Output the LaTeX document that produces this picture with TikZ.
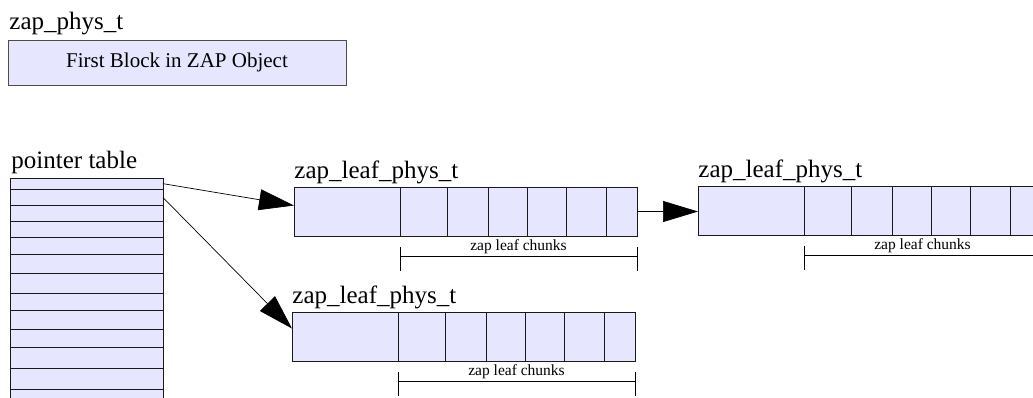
\documentclass[tikz,border=0pt]{standalone}
\usepackage{fontspec}
\setmainfont{Liberation Serif}
\usetikzlibrary{arrows.meta}
\definecolor{lavender}{RGB}{230,230,255}
\begin{document}
\begin{tikzpicture}[x=1pt, y=-1pt, line width=0.9pt]
	\tikzstyle{cell} = [draw=black!90, fill=lavender, inner sep=0pt, outer sep=0pt, anchor=north west]
	\tikzstyle{title} = [anchor=base west, inner sep=0pt, font=\fontsize{25}{30}\selectfont]
	\tikzstyle{arrow} = [-{Triangle[length=35pt,width=21pt]}, line width=0.7pt]
	\useasboundingbox (0,0) rectangle (1033,397);
	% first block
	\node[cell, draw=black!70, minimum width=338pt, minimum height=45pt, font=\fontsize{21}{25}\selectfont](zap)at(8,40){First Block in ZAP Object};
	\node[title](zaplbl)at(9,29){zap\_phys\_t};
	% pointer table
	\node[title](ptrlbl)at(11,168){pointer table};
	\foreach \n/\a/\h in {1/178/11.3, 2/189.3/16.4, 3/205.7/15.3, 4/221/16.3, 5/237.3/17, 6/254.3/19, 7/273.3/20, 8/293.3/17.4, 9/310.7/18.6, 10/329.3/18, 11/347.3/21, 12/368.3/21, 13/389.3/21}
		\node[cell, minimum width=153pt, minimum height=\h*1pt](r\n)at(10,\a){};
	% leaf blocks
	\foreach \n/\x/\y in {lA/294/187, lB/698/186, lC/292/312}{
		\node[cell, minimum width=106pt, minimum height=49pt](\n-0)at(\x,\y){};
		\foreach \w [count=\k, remember=\k as \j (initially 0)] in {47,41,39,39,40,31}
			\node[cell, minimum width=\w*1pt, minimum height=49pt](\n-\k)at(\n-\j.north east){};
		\node[title](\n-lbl)at([yshift=9pt]\n-0.north west){zap\_leaf\_phys\_t};
		\draw[line width=0.7pt] ([yshift=-11pt]\n-1.south west) -- ([yshift=-35pt]\n-1.south west)
			([yshift=-11pt]\n-6.south east) -- ([yshift=-35pt]\n-6.south east)
			([yshift=-20pt]\n-1.south west) -- node[above=2pt, inner sep=0pt, font=\fontsize{15.5}{18}\selectfont]{zap leaf chunks} ([yshift=-20pt]\n-6.south east);
	}
	\draw[arrow] (r1.east) -- ([yshift=6pt]lA-0.west);
	\draw[arrow] (r2.east) -- ([yshift=8pt]lC-0.west);
	\draw[arrow] (lA-6.east) -- (lA-6.east -| lB-0.west);
\end{tikzpicture}
\end{document}
